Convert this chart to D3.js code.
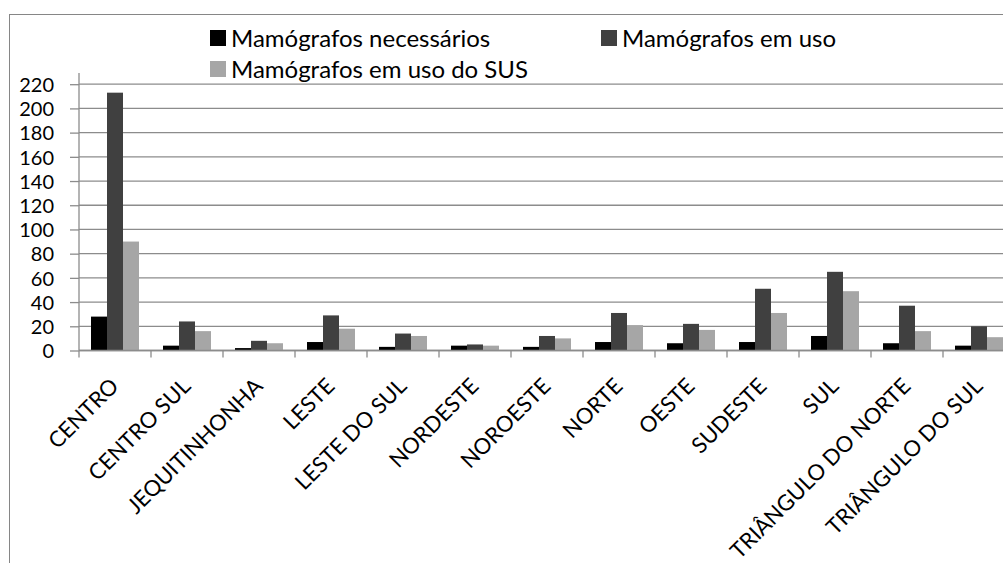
<!DOCTYPE html>
<html>
<head>
<meta charset="utf-8">
<script src="https://cdn.jsdelivr.net/npm/d3@7"></script>
<style>
  body { margin: 0; background: #fff; }
  svg text { font-family: Lato, "Open Sans", sans-serif; fill: #000; }
</style>
</head>
<body>
<div id="chart"></div>
<script>
'use strict';

// regions (x categories)
const regions = ['CENTRO', 'CENTRO SUL', 'JEQUITINHONHA', 'LESTE', 'LESTE DO SUL',
  'NORDESTE', 'NOROESTE', 'NORTE', 'OESTE', 'SUDESTE', 'SUL',
  'TRIÂNGULO DO NORTE', 'TRIÂNGULO DO SUL'];

const seriesNames = ['Mamógrafos necessários', 'Mamógrafos em uso', 'Mamógrafos em uso do SUS'];

// values
const necessarios = [28, 4, 2, 7, 3, 4, 3, 7, 6, 7, 12, 6, 4];
const emUso       = [213, 24, 8, 29, 14, 5, 12, 31, 22, 51, 65, 37, 20];
const emUsoSUS    = [90, 16, 6, 18, 12, 4, 10, 21, 17, 31, 49, 16, 11];

const yTicks = [0, 20, 40, 60, 80, 100, 120, 140, 160, 180, 200, 220];

const colors = ['#000000', '#404040', '#a6a6a6'];

const width = 1003;
const height = 563;
const left = 79;
const bandW = 72;

const svg = d3.select('#chart').append('svg')
  .attr('width', width)
  .attr('height', height);

// outer chart border
svg.append('rect')
  .attr('x', 9.5).attr('y', 14.5)
  .attr('width', 1100).attr('height', 600)
  .attr('fill', '#fff')
  .attr('stroke', '#868686')
  .attr('stroke-width', 1);

const x = d3.scaleBand()
  .domain(regions)
  .range([left, left + bandW * regions.length]);

const xSub = d3.scaleBand()
  .domain(d3.range(3))
  .range([12, bandW - 12]);

const y = d3.scaleLinear()
  .domain([0, 220])
  .range([350.5, 84.2]);

// gridlines
svg.append('g')
  .selectAll('line')
  .data(yTicks)
  .join('line')
  .attr('x1', left)
  .attr('x2', width + 20)
  .attr('y1', d => y(d))
  .attr('y2', d => y(d))
  .attr('stroke', '#8c8c8c')
  .attr('stroke-width', 1.3);

// y axis
const yAxis = svg.append('g')
  .attr('transform', `translate(${left},0)`)
  .call(d3.axisLeft(y).tickValues(yTicks).tickSize(9).tickPadding(16));
yAxis.select('.domain').remove();
yAxis.selectAll('.tick line').attr('stroke', '#8c8c8c').attr('stroke-width', 1.3);
yAxis.selectAll('.tick text')
  .style('font-size', '20px')
  .attr('dy', '0.36em');
svg.append('line')
  .attr('x1', left).attr('x2', left)
  .attr('y1', 73).attr('y2', y(0))
  .attr('stroke', '#8c8c8c').attr('stroke-width', 1.3);

// bars
const groups = svg.append('g')
  .selectAll('g')
  .data(regions.map((r, i) => ({ r, vals: [necessarios[i], emUso[i], emUsoSUS[i]] })))
  .join('g')
  .attr('transform', d => `translate(${x(d.r)},0)`);

groups.selectAll('rect')
  .data(d => d.vals.map((v, k) => ({ v, k })))
  .join('rect')
  .attr('x', d => xSub(d.k))
  .attr('width', xSub.bandwidth())
  .attr('y', d => y(d.v))
  .attr('height', d => y(0) - y(d.v))
  .attr('fill', d => colors[d.k]);

// x axis
const xAxis = svg.append('g')
  .attr('transform', `translate(0,${y(0)})`);
xAxis.append('line')
  .attr('x1', left).attr('x2', width + 20)
  .attr('stroke', '#8c8c8c').attr('stroke-width', 1.3);
xAxis.selectAll('line.tk')
  .data(d3.range(regions.length + 1))
  .join('line')
  .attr('class', 'tk')
  .attr('x1', i => left + i * bandW)
  .attr('x2', i => left + i * bandW)
  .attr('y1', 0).attr('y2', 7)
  .attr('stroke', '#8c8c8c').attr('stroke-width', 1.3);

xAxis.selectAll('text')
  .data(regions)
  .join('text')
  .attr('transform', d => `translate(${x(d) + x.bandwidth() / 2 + 5},37) rotate(-45)`)
  .attr('text-anchor', 'end')
  .style('font-size', '22px')
  .text(d => d);

// legend
const legendItems = [
  { name: seriesNames[0], color: colors[0], lx: 210, ly: 38 },
  { name: seriesNames[1], color: colors[1], lx: 601, ly: 38 },
  { name: seriesNames[2], color: colors[2], lx: 210, ly: 69 }
];
const leg = svg.append('g')
  .selectAll('g')
  .data(legendItems)
  .join('g')
  .attr('transform', d => `translate(${d.lx},${d.ly})`);
leg.append('rect')
  .attr('x', 0).attr('y', -8)
  .attr('width', 16).attr('height', 16)
  .attr('fill', d => d.color);
leg.append('text')
  .attr('x', 21)
  .attr('dy', '0.36em')
  .style('font-size', '24px')
  .text(d => d.name);
</script>
</body>
</html>
